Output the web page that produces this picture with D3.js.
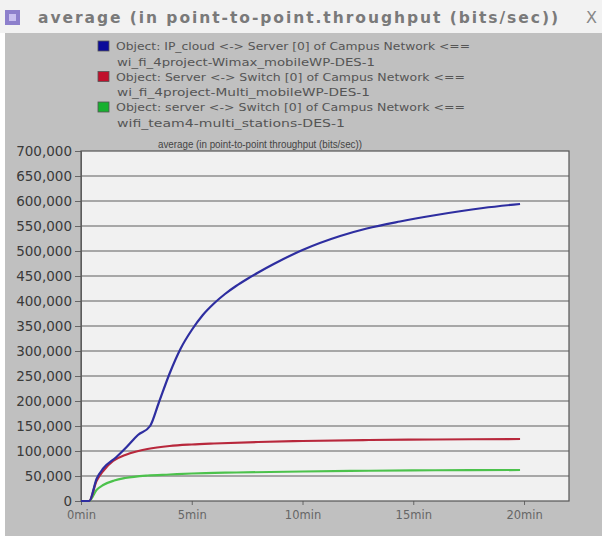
<!DOCTYPE html>
<html>
<head>
<meta charset="utf-8">
<script src="https://cdn.jsdelivr.net/npm/d3@7"></script>
<style>
  html, body { margin: 0; padding: 0; background: #ffffff; }
  svg { display: block; }
</style>
</head>
<body>
<svg id="chart" width="602" height="536"></svg>
<script>
// ---- data ----
const windowTitle = "average (in point-to-point.throughput (bits/sec))";
const plotTitle = "average (in point-to-point throughput (bits/sec))";
const legendLines = [
  ["Object: IP_cloud <-> Server [0] of Campus Network <==", "wi_fi_4project-Wimax_mobileWP-DES-1"],
  ["Object: Server <-> Switch [0] of Campus Network <==", "wi_fi_4project-Multi_mobileWP-DES-1"],
  ["Object: server <-> Switch [0] of Campus Network <==", "wifi_team4-multi_stations-DES-1"]
];
const legendWidths = [[354, 258], [349, 253], [349, 228]];
const seriesColors = ["#2e2ea0", "#b8283c", "#4cc24c"];
const legendColors = ["#0a0a9a", "#c0102c", "#18b030"];

const blueTimes  = [0, 0.37, 0.71, 1.0, 1.6, 2.06, 2.57, 3.12, 3.5, 4.0, 4.5, 5.0, 5.5, 6.0, 6.5, 7.0, 7.5, 8.0, 8.7, 10.0, 11.7, 12.9, 14.4, 15.9, 18.15, 19.82];
const blueValues = [0, 0, 45000, 65000, 88000, 108000, 132000, 150000, 195000, 255000, 305000, 342000, 372000, 395000, 414000, 430000, 444000, 457000, 474000, 502000, 530000, 545000, 559000, 571000, 586000, 594000];

const redTimes  = [0, 0.37, 0.7, 1.0, 1.45, 2.0, 2.5, 3.0, 4.0, 5.0, 6.0, 8.0, 10.0, 13.0, 16.0, 19.82];
const redValues = [0, 0, 40000, 60000, 80000, 92000, 99000, 104000, 110000, 113000, 115000, 118000, 120000, 122000, 123000, 124000];

const greenTimes  = [0, 0.37, 0.7, 1.0, 1.5, 2.0, 3.0, 4.0, 5.0, 7.0, 10.0, 13.0, 16.0, 19.82];
const greenValues = [0, 0, 22000, 32000, 41000, 46000, 51000, 53000, 55000, 57000, 59000, 60500, 61500, 62000];

const yTicks = [0, 50000, 100000, 150000, 200000, 250000, 300000, 350000, 400000, 450000, 500000, 550000, 600000, 650000, 700000];
const xTicks = [0, 5, 10, 15, 20];
const xTickLabels = ["0min", "5min", "10min", "15min", "20min"];

// ---- layout ----
const svg = d3.select("#chart");
const W = 602, H = 536;
const plot = { left: 81, right: 569, top: 151, bottom: 501 };

// window title bar
svg.append("rect").attr("x", 0).attr("y", 0).attr("width", W).attr("height", 33).attr("fill", "#f2f2f2");
svg.append("rect").attr("x", 5).attr("y", 10).attr("width", 15).attr("height", 15).attr("fill", "#8d80cc");
svg.append("rect").attr("x", 9).attr("y", 14).attr("width", 7).attr("height", 7).attr("fill", "#c9c0f0");
svg.append("text").attr("x", 38).attr("y", 23)
  .attr("font-family", "DejaVu Sans, sans-serif").attr("font-weight", "bold").attr("font-size", 15.5)
  .attr("fill", "#7a7a7a").attr("textLength", 520).attr("lengthAdjust", "spacing")
  .text(windowTitle);
svg.append("text").attr("x", 586).attr("y", 23)
  .attr("font-family", "DejaVu Sans, sans-serif").attr("font-size", 16)
  .attr("fill", "#888").text("X");

// gray panel
svg.append("rect").attr("x", 5).attr("y", 33).attr("width", W - 5).attr("height", H - 33).attr("fill", "#c0c0c0");

// legend
const legend = svg.append("g");
legendLines.forEach((lines, i) => {
  const y0 = 46 + i * 30.5;
  legend.append("rect").attr("x", 98).attr("y", y0 - 5).attr("width", 11).attr("height", 10)
    .attr("fill", legendColors[i]).attr("stroke", "#555").attr("stroke-width", 0.8);
  legend.append("text").attr("x", 116).attr("y", y0 + 4)
    .attr("font-family", "DejaVu Sans, sans-serif").attr("font-size", 11)
    .attr("fill", "#555").attr("textLength", legendWidths[i][0]).attr("lengthAdjust", "spacingAndGlyphs")
    .text(lines[0]);
  legend.append("text").attr("x", 117).attr("y", y0 + 19.5)
    .attr("font-family", "DejaVu Sans, sans-serif").attr("font-size", 11)
    .attr("fill", "#555").attr("textLength", legendWidths[i][1]).attr("lengthAdjust", "spacingAndGlyphs")
    .text(lines[1]);
});

// scales
const x = d3.scaleLinear().domain([0, 22.03]).range([plot.left, plot.right]);
const y = d3.scaleLinear().domain([0, 700000]).range([plot.bottom, plot.top]);

// plot background
svg.append("rect").attr("x", plot.left).attr("y", plot.top)
  .attr("width", plot.right - plot.left).attr("height", plot.bottom - plot.top)
  .attr("fill", "#f1f1f1");

// gridlines
svg.append("g").selectAll("line").data(yTicks.slice(1, -1)).join("line")
  .attr("x1", plot.left).attr("x2", plot.right)
  .attr("y1", d => y(d)).attr("y2", d => y(d))
  .attr("stroke", "#8e8e8e").attr("stroke-width", 1.6);

// plot title
svg.append("text").attr("x", 158).attr("y", 148)
  .attr("font-family", "Liberation Sans, Arial, sans-serif").attr("font-size", 10)
  .attr("fill", "#444").attr("textLength", 204).attr("lengthAdjust", "spacingAndGlyphs")
  .text(plotTitle);

// y axis
const yAxis = d3.axisLeft(y).tickValues(yTicks).tickFormat(d3.format(",")).tickSize(6).tickPadding(3);
const gy = svg.append("g").attr("transform", `translate(${plot.left},0)`).call(yAxis);
gy.select(".domain").attr("stroke", "#666");
gy.selectAll(".tick line").attr("stroke", "#666");
gy.selectAll(".tick text").attr("font-family", "DejaVu Sans, sans-serif")
  .attr("font-size", 13.5).attr("fill", "#3a3a3a");

// x axis
const xAxis = d3.axisBottom(x).tickValues(xTicks).tickFormat((d, i) => xTickLabels[i]).tickSize(4).tickPadding(6);
const gx = svg.append("g").attr("transform", `translate(0,${plot.bottom})`).call(xAxis);
gx.select(".domain").remove();
gx.selectAll(".tick line").attr("stroke", "#666");
gx.selectAll(".tick text").attr("font-family", "DejaVu Sans, sans-serif")
  .attr("font-size", 11.5).attr("fill", "#666");

// plot border
svg.append("rect").attr("x", plot.left).attr("y", plot.top)
  .attr("width", plot.right - plot.left).attr("height", plot.bottom - plot.top)
  .attr("fill", "none").attr("stroke", "#555").attr("stroke-width", 1.2);

// lines
const line = d3.line().x(d => x(d[0])).y(d => y(d[1])).curve(d3.curveMonotoneX);
const seriesData = [
  { times: greenTimes, values: greenValues, color: seriesColors[2] },
  { times: redTimes, values: redValues, color: seriesColors[1] },
  { times: blueTimes, values: blueValues, color: seriesColors[0] }
];
seriesData.forEach(s => {
  const pts = s.times.map((t, i) => [t, s.values[i]]);
  svg.append("path").datum(pts).attr("d", line)
    .attr("fill", "none").attr("stroke", s.color).attr("stroke-width", 2.2)
    .attr("stroke-linejoin", "round");
});
</script>
</body>
</html>
